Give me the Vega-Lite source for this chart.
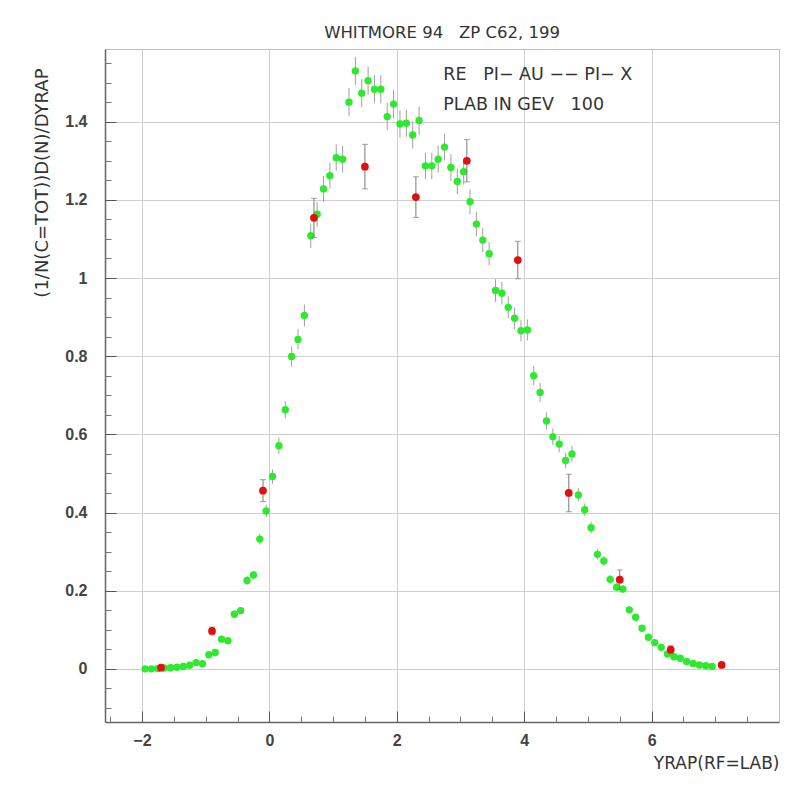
{
  "$schema": "https://vega.github.io/schema/vega-lite/v6.json",
  "width": 674,
  "height": 673,
  "autosize": {"type": "none"},
  "padding": {"left": 105, "top": 49, "right": 17, "bottom": 63},
  "background": "white",
  "title": {"text": "WHITMORE 94\u00a0\u00a0\u00a0ZP C62, 199", "font": "DejaVu Sans", "fontSize": 16.5, "fontWeight": "normal", "color": "#333333", "offset": 8, "anchor": "middle"},
  "config": {
    "view": {"stroke": "#bdbdbd", "strokeWidth": 1},
    "axis": {"labelFont": "Liberation Sans", "titleFont": "DejaVu Sans"}
  },
  "datasets": {
    "green": [
      {"x": -1.95, "y": 0.000, "e": 0.002}, {"x": -1.85, "y": 0.000, "e": 0.002}, {"x": -1.75, "y": 0.001, "e": 0.002},
      {"x": -1.65, "y": 0.002, "e": 0.002}, {"x": -1.55, "y": 0.003, "e": 0.002}, {"x": -1.45, "y": 0.004, "e": 0.002},
      {"x": -1.35, "y": 0.006, "e": 0.002}, {"x": -1.25, "y": 0.009, "e": 0.003}, {"x": -1.15, "y": 0.016, "e": 0.003},
      {"x": -1.05, "y": 0.013, "e": 0.003}, {"x": -0.95, "y": 0.036, "e": 0.005}, {"x": -0.85, "y": 0.042, "e": 0.005},
      {"x": -0.75, "y": 0.076, "e": 0.006}, {"x": -0.65, "y": 0.072, "e": 0.006}, {"x": -0.55, "y": 0.140, "e": 0.009},
      {"x": -0.45, "y": 0.149, "e": 0.009}, {"x": -0.35, "y": 0.226, "e": 0.011}, {"x": -0.25, "y": 0.240, "e": 0.011},
      {"x": -0.15, "y": 0.332, "e": 0.014}, {"x": -0.05, "y": 0.404, "e": 0.016}, {"x": 0.05, "y": 0.492, "e": 0.018},
      {"x": 0.15, "y": 0.571, "e": 0.021}, {"x": 0.25, "y": 0.663, "e": 0.022}, {"x": 0.35, "y": 0.799, "e": 0.026},
      {"x": 0.45, "y": 0.843, "e": 0.026}, {"x": 0.55, "y": 0.904, "e": 0.028}, {"x": 0.65, "y": 1.108, "e": 0.031},
      {"x": 0.75, "y": 1.163, "e": 0.032}, {"x": 0.85, "y": 1.228, "e": 0.033}, {"x": 0.95, "y": 1.262, "e": 0.033},
      {"x": 1.05, "y": 1.308, "e": 0.034}, {"x": 1.15, "y": 1.304, "e": 0.034}, {"x": 1.25, "y": 1.450, "e": 0.036},
      {"x": 1.35, "y": 1.530, "e": 0.036}, {"x": 1.45, "y": 1.473, "e": 0.036}, {"x": 1.55, "y": 1.505, "e": 0.036},
      {"x": 1.65, "y": 1.483, "e": 0.036}, {"x": 1.75, "y": 1.483, "e": 0.036}, {"x": 1.85, "y": 1.413, "e": 0.035},
      {"x": 1.95, "y": 1.445, "e": 0.036}, {"x": 2.05, "y": 1.394, "e": 0.035}, {"x": 2.15, "y": 1.396, "e": 0.035},
      {"x": 2.25, "y": 1.366, "e": 0.035}, {"x": 2.35, "y": 1.403, "e": 0.036}, {"x": 2.45, "y": 1.287, "e": 0.034},
      {"x": 2.55, "y": 1.287, "e": 0.034}, {"x": 2.65, "y": 1.304, "e": 0.034}, {"x": 2.75, "y": 1.335, "e": 0.034},
      {"x": 2.85, "y": 1.283, "e": 0.034}, {"x": 2.95, "y": 1.247, "e": 0.033}, {"x": 3.05, "y": 1.272, "e": 0.033},
      {"x": 3.15, "y": 1.195, "e": 0.032}, {"x": 3.25, "y": 1.138, "e": 0.031}, {"x": 3.35, "y": 1.097, "e": 0.031},
      {"x": 3.45, "y": 1.062, "e": 0.030}, {"x": 3.55, "y": 0.968, "e": 0.029}, {"x": 3.65, "y": 0.961, "e": 0.029},
      {"x": 3.75, "y": 0.925, "e": 0.028}, {"x": 3.85, "y": 0.897, "e": 0.028}, {"x": 3.95, "y": 0.865, "e": 0.027},
      {"x": 4.05, "y": 0.867, "e": 0.027}, {"x": 4.15, "y": 0.750, "e": 0.025}, {"x": 4.25, "y": 0.707, "e": 0.024},
      {"x": 4.35, "y": 0.634, "e": 0.022}, {"x": 4.45, "y": 0.594, "e": 0.021}, {"x": 4.55, "y": 0.575, "e": 0.021},
      {"x": 4.65, "y": 0.533, "e": 0.020}, {"x": 4.75, "y": 0.550, "e": 0.020}, {"x": 4.85, "y": 0.445, "e": 0.017},
      {"x": 4.95, "y": 0.407, "e": 0.016}, {"x": 5.05, "y": 0.361, "e": 0.015}, {"x": 5.15, "y": 0.293, "e": 0.013},
      {"x": 5.25, "y": 0.276, "e": 0.012}, {"x": 5.35, "y": 0.229, "e": 0.011}, {"x": 5.45, "y": 0.209, "e": 0.010},
      {"x": 5.55, "y": 0.204, "e": 0.010}, {"x": 5.65, "y": 0.151, "e": 0.009}, {"x": 5.75, "y": 0.132, "e": 0.008},
      {"x": 5.85, "y": 0.104, "e": 0.007}, {"x": 5.95, "y": 0.081, "e": 0.006}, {"x": 6.05, "y": 0.067, "e": 0.006},
      {"x": 6.15, "y": 0.055, "e": 0.005}, {"x": 6.25, "y": 0.038, "e": 0.004}, {"x": 6.35, "y": 0.031, "e": 0.004},
      {"x": 6.45, "y": 0.027, "e": 0.003}, {"x": 6.55, "y": 0.019, "e": 0.003}, {"x": 6.65, "y": 0.014, "e": 0.002},
      {"x": 6.75, "y": 0.010, "e": 0.002}, {"x": 6.85, "y": 0.008, "e": 0.002}, {"x": 6.95, "y": 0.006, "e": 0.002}
    ],
    "red": [
      {"x": -1.7, "y": 0.003, "e": 0.003}, {"x": -0.9, "y": 0.097, "e": 0.010}, {"x": -0.1, "y": 0.456, "e": 0.028},
      {"x": 0.7, "y": 1.154, "e": 0.050}, {"x": 1.5, "y": 1.285, "e": 0.057}, {"x": 2.3, "y": 1.207, "e": 0.052},
      {"x": 3.1, "y": 1.300, "e": 0.054}, {"x": 3.9, "y": 1.046, "e": 0.048}, {"x": 4.7, "y": 0.450, "e": 0.048},
      {"x": 5.5, "y": 0.228, "e": 0.025}, {"x": 6.3, "y": 0.049, "e": 0.010}, {"x": 7.1, "y": 0.010, "e": 0.005}
    ],
    "notes": [
      {"x": 2.73, "y": 1.52, "label": "RE\u00a0\u00a0\u00a0PI\u2212 AU \u2212\u2212 PI\u2212 X"},
      {"x": 2.73, "y": 1.443, "label": "PLAB IN GEV\u00a0\u00a0\u00a0100"}
    ]
  },
  "resolve": {"axis": {"x": "independent", "y": "independent"}},
  "layer": [
    {
      "data": {"name": "green"},
      "mark": {"type": "errorbar", "color": "#a0a0a0", "thickness": 1},
      "encoding": {
        "x": {"field": "x", "type": "quantitative",
              "scale": {"domain": [-2.58, 8.0], "nice": false, "zero": false},
              "axis": {"orient": "bottom", "values": [-2, 0, 2, 4, 6], "title": "YRAP(RF=LAB)", "grid": true, "gridColor": "#cfcfcf", "gridWidth": 1,
                       "ticks": false, "domain": true, "domainColor": "#666666", "domainWidth": 1.5,
                       "labelFontSize": 16, "labelFontWeight": "bold", "labelColor": "#444444", "labelPadding": 10, "labelFlush": false,
                       "titleFontSize": 17, "titleFontWeight": "normal", "titleColor": "#333333",
                       "titleAnchor": "end", "titleAlign": "right", "titleX": 674, "titleY": 41, "titleBaseline": "middle"}},
        "y": {"field": "y", "type": "quantitative",
              "scale": {"domain": [-0.136, 1.586], "nice": false, "zero": false},
              "axis": {"orient": "left", "values": [0, 0.2, 0.4, 0.6, 0.8, 1, 1.2, 1.4], "format": "~g", "title": "(1/N(C=TOT))D(N)/DYRAP",
                       "grid": true, "gridColor": "#cfcfcf", "gridWidth": 1,
                       "ticks": false, "domain": true, "domainColor": "#666666", "domainWidth": 1.5,
                       "labelFontSize": 16, "labelFontWeight": "bold", "labelColor": "#444444", "labelPadding": 18, "labelFlush": false,
                       "titleFontSize": 18, "titleFontWeight": "normal", "titleColor": "#333333",
                       "titleAngle": -90, "titleAlign": "right", "titleBaseline": "middle", "titleX": -63, "titleY": 19}},
        "yError": {"field": "e"}
      }
    },
    {
      "data": {"name": "green"},
      "mark": {"type": "point", "filled": true, "color": "#2eea2e", "opacity": 1, "size": 55},
      "encoding": {
        "x": {"field": "x", "type": "quantitative",
              "axis": {"orient": "bottom", "offset": -11, "values": [-2, 0, 2, 4, 6], "title": null, "grid": false, "labels": false, "domain": false,
                       "ticks": true, "tickSize": 11, "tickColor": "#555555", "tickWidth": 1}},
        "y": {"field": "y", "type": "quantitative",
              "axis": {"orient": "left", "offset": -11, "values": [0, 0.2, 0.4, 0.6, 0.8, 1, 1.2, 1.4], "title": null, "grid": false, "labels": false, "domain": false,
                       "ticks": true, "tickSize": 11, "tickColor": "#555555", "tickWidth": 1}}
      }
    },
    {
      "data": {"name": "red"},
      "mark": {"type": "errorbar", "color": "#7a7a7a", "thickness": 1, "ticks": {"size": 6}},
      "encoding": {
        "x": {"field": "x", "type": "quantitative",
              "axis": {"orient": "bottom", "offset": -6, "values": [-2.5, -1.5, -1, -0.5, 0.5, 1, 1.5, 2.5, 3, 3.5, 4.5, 5, 5.5, 6.5, 7, 7.5], "title": null, "grid": false, "labels": false, "domain": false,
                       "ticks": true, "tickSize": 6, "tickColor": "#777777", "tickWidth": 1}},
        "y": {"field": "y", "type": "quantitative",
              "axis": {"orient": "left", "offset": -6, "values": [-0.1, -0.05, 0.05, 0.1, 0.15, 0.25, 0.3, 0.35, 0.45, 0.5, 0.55, 0.65, 0.7, 0.75, 0.85, 0.9, 0.95, 1.05, 1.1, 1.15, 1.25, 1.3, 1.35, 1.45, 1.5, 1.55],
                       "title": null, "grid": false, "labels": false, "domain": false,
                       "ticks": true, "tickSize": 6, "tickColor": "#777777", "tickWidth": 1}},
        "yError": {"field": "e"}
      }
    },
    {
      "data": {"name": "red"},
      "mark": {"type": "point", "filled": true, "color": "#e01010", "opacity": 1, "size": 60},
      "encoding": {
        "x": {"field": "x", "type": "quantitative", "axis": null},
        "y": {"field": "y", "type": "quantitative", "axis": null}
      }
    },
    {
      "data": {"name": "notes"},
      "mark": {"type": "text", "align": "left", "baseline": "middle", "font": "DejaVu Sans", "fontSize": 17.5, "color": "#333333"},
      "encoding": {
        "x": {"field": "x", "type": "quantitative", "axis": null},
        "y": {"field": "y", "type": "quantitative", "axis": null},
        "text": {"field": "label"}
      }
    }
  ]
}
